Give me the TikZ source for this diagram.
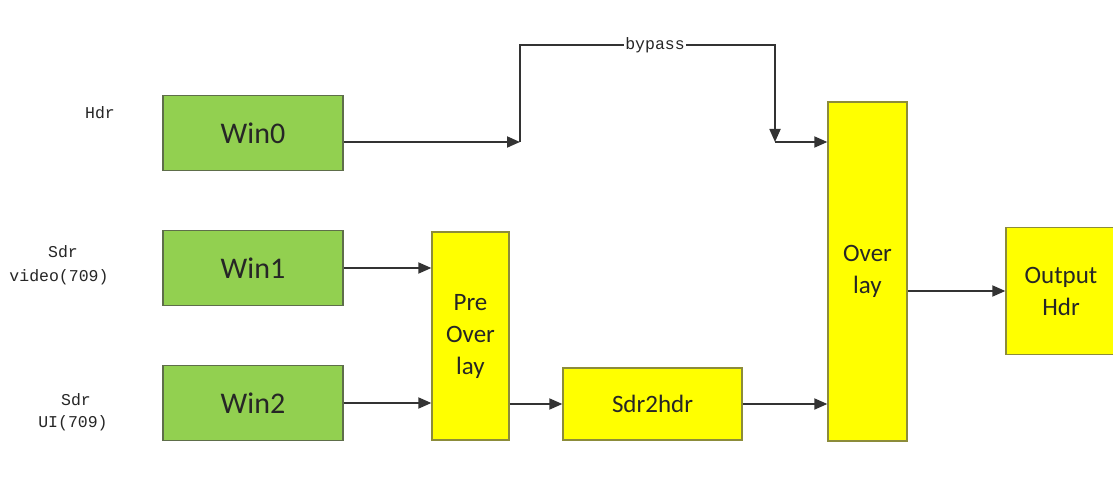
\documentclass[tikz,border=0pt]{standalone}
\usepackage{fontspec}
\setmainfont{Carlito}
\newfontfamily\labfont{Liberation Mono}
\usetikzlibrary{arrows.meta}
\definecolor{wingreen}{HTML}{92D050}
\definecolor{winedge}{HTML}{5E6E4A}
\definecolor{ovyellow}{HTML}{FFFF00}
\definecolor{ovedge}{HTML}{8C8C3A}
\definecolor{linegray}{HTML}{333333}
\tikzset{
  winbox/.style={draw=winedge, fill=wingreen, line width=1.3pt, inner sep=0pt,
    minimum width=180pt, minimum height=75pt, font=\fontsize{30}{32}\selectfont, text=black!85},
  ybox/.style={draw=ovedge, fill=ovyellow, line width=1.3pt, inner sep=0pt,
    font=\fontsize{25}{32}\selectfont, align=center, text=black!85},
  lab/.style={font=\labfont\fontsize{16.5}{25}\selectfont, align=center, text=black!85, inner sep=0pt},
  flow/.style={draw=linegray, line width=1.8pt, -{Triangle[length=13pt,width=11pt]}},
}
\begin{document}
\begin{tikzpicture}[x=1pt,y=-1pt]
\useasboundingbox (0,0) rectangle (1113,489);
\fill[white] (0,0) rectangle (1113,489);
% boxes
\node[winbox] (win0) at (253,133) {Win0};
\node[winbox] (win1) at (253,268) {Win1};
\node[winbox] (win2) at (253,403) {Win2};
\node[ybox, minimum width=77pt, minimum height=208pt] (pre) at (470.5,336) {Pre\\Over\\lay};
\node[ybox, minimum width=179pt, minimum height=72pt] (s2h) at (652.5,404) {Sdr2hdr};
\node[ybox, minimum width=79pt, minimum height=339pt] (ov) at (867.5,271.5) {Over\\lay};
\node[ybox, minimum width=110pt, minimum height=127pt] (out) at (1061,291) {Output\\Hdr};
% labels
\node[lab] (lhdr) at (100,113) {Hdr};
\node[lab] (lsdr1) at (63,252) {Sdr};
\node[lab] (lvid) at (59,277) {video(709)};
\node[lab] (lsdr2) at (76,400) {Sdr};
\node[lab] (lui) at (73,423) {UI(709)};
% connectors
\coordinate (j1) at (520,142);
\coordinate (j2) at (775,142);
\coordinate (top) at (520,45);
\draw[flow] (win0.east|-j1) -- (j1);
\draw[flow] (j1) -- (top) -- (top-|j2) -- (j2);
\node[lab, fill=white, inner xsep=1pt] (bp) at (655,45) {bypass};
\draw[flow] (j2) -- (ov.west|-j2);
\draw[flow] (win1.east) -- (pre.west|-win1.east);
\draw[flow] (win2.east) -- (pre.west|-win2.east);
\draw[flow] (pre.east|-s2h.west) -- (s2h.west);
\draw[flow] (s2h.east) -- (ov.west|-s2h.east);
\draw[flow] (ov.east|-out.west) -- (out.west);
\end{tikzpicture}
\end{document}
